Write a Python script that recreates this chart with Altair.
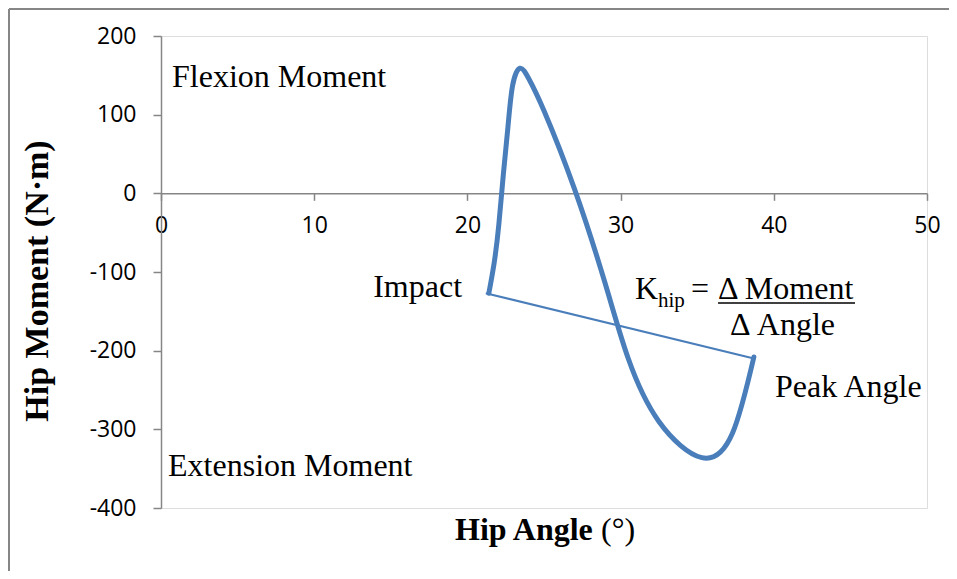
import altair as alt
import pandas as pd

# Hip moment-angle loop
curve_angle = [21.4, 21.75, 22.05, 22.35, 22.65, 22.95, 23.43, 24.0, 25.0, 27.0,
               29.0, 30.5, 32.5, 35.3, 37.3, 38.7]
curve_moment = [-127, -88, -40, 25, 85, 137, 159, 146, 105, 5,
                -115, -210, -290, -336, -305, -208]

chord_angle = [21.2, 38.7]
chord_moment = [-127, -210]

x_ticks = [0, 10, 20, 30, 40, 50]
y_ticks = [-400, -300, -200, -100, 0, 100, 200]

BLUE = "#4a7ebb"
GRAY = "#868686"
SERIF = "Liberation Serif"
SANS = "Open Sans"

curve = pd.DataFrame({"angle": curve_angle, "moment": curve_moment,
                      "order": list(range(len(curve_angle)))})
chord = pd.DataFrame({"angle": chord_angle, "moment": chord_moment})

xs = alt.Scale(domain=[0, 50], nice=False, zero=False)
ys = alt.Scale(domain=[-400, 200], nice=False, zero=False)

x_axis = alt.Axis(orient="bottom", offset=-314.67, values=x_ticks, tickSize=7,
                  labelPadding=14, labelFlush=False, labelOverlap=False,
                  domainColor=GRAY, tickColor=GRAY, domainWidth=1.5,
                  tickWidth=1.5, labelFont=SANS, labelFontSize=23, labelColor="#000000",
                  grid=False, title=None)
y_axis = alt.Axis(orient="left", values=y_ticks, tickSize=8, labelPadding=17,
                  labelExpr="'' + datum.value", labelOverlap=False,
                  domainColor=GRAY, tickColor=GRAY, domainWidth=1.5, tickWidth=1.5,
                  labelFont=SANS, labelFontSize=23, labelColor="#000000",
                  grid=False, title=None)

line = alt.Chart(curve).mark_line(color=BLUE, strokeWidth=5, strokeCap="round",
                                  strokeJoin="round", interpolate="natural").encode(
    x=alt.X("angle:Q", scale=xs, axis=x_axis),
    y=alt.Y("moment:Q", scale=ys, axis=y_axis),
    order="order:O",
)

chord_line = alt.Chart(chord).mark_line(color=BLUE, strokeWidth=2).encode(
    x=alt.X("angle:Q", scale=xs),
    y=alt.Y("moment:Q", scale=ys),
)

# annotations
ann_left = pd.DataFrame({
    "x": [0.72, 0.46, 40.08, 30.94, 34.6, 36.36, 37.14],
    "y": [135, -359, -259, -134.3, -134.3, -134.3, -180.1],
    "t": ["Flexion Moment", "Extension Moment", "Peak Angle", "K", "=", "Δ Moment", "Δ Angle"],
})
ann_right = pd.DataFrame({"x": [19.65], "y": [-132], "t": ["Impact"]})
ann_sub = pd.DataFrame({"x": [32.44], "y": [-144.5], "t": ["hip"]})
underline = pd.DataFrame({"x": [36.36], "x2": [45.3], "y": [-139.4]})

t_left = alt.Chart(ann_left).mark_text(font=SERIF, fontSize=32, align="left",
                                       baseline="alphabetic", color="#000000").encode(
    x=alt.X("x:Q", scale=xs), y=alt.Y("y:Q", scale=ys), text="t:N")
t_right = alt.Chart(ann_right).mark_text(font=SERIF, fontSize=32, align="right",
                                         baseline="alphabetic", color="#000000").encode(
    x=alt.X("x:Q", scale=xs), y=alt.Y("y:Q", scale=ys), text="t:N")
t_sub = alt.Chart(ann_sub).mark_text(font=SERIF, fontSize=21, align="left",
                                     baseline="alphabetic", color="#000000").encode(
    x=alt.X("x:Q", scale=xs), y=alt.Y("y:Q", scale=ys), text="t:N")
u_rule = alt.Chart(underline).mark_rule(color="#000000", strokeWidth=1.5).encode(
    x=alt.X("x:Q", scale=xs), x2="x2:Q", y=alt.Y("y:Q", scale=ys))

# axis titles
xt_bold = alt.Chart(pd.DataFrame({"t": ["Hip Angle"]})).mark_text(
    font=SERIF, fontSize=32, fontWeight="bold", align="left", baseline="alphabetic",
    color="#000000").encode(x=alt.value(294), y=alt.value(504), text="t:N")
xt_reg = alt.Chart(pd.DataFrame({"t": ["(°)"]})).mark_text(
    font=SERIF, fontSize=32, align="left", baseline="alphabetic",
    color="#000000").encode(x=alt.value(440), y=alt.value(504), text="t:N")
yt = alt.Chart(pd.DataFrame({"t": ["Hip Moment (N·m)"]})).mark_text(
    font=SERIF, fontSize=34, fontWeight="bold", align="center", baseline="middle",
    angle=270, color="#000000").encode(x=alt.value(-123), y=alt.value(245), text="t:N")

# chart-area border (left and top edges)
border_v = alt.Chart(pd.DataFrame({"a": [0]})).mark_rule(color=GRAY, strokeWidth=2).encode(
    x=alt.value(-152), y=alt.value(-27), y2=alt.value(540))
border_h = alt.Chart(pd.DataFrame({"a": [0]})).mark_rule(color=GRAY, strokeWidth=2).encode(
    x=alt.value(-152), x2=alt.value(790), y=alt.value(-27))

chart = alt.layer(border_v, border_h, chord_line, line, t_left, t_right, t_sub, u_rule,
                  xt_bold, xt_reg, yt).properties(
    width=766, height=472,
    autosize=alt.AutoSizeParams(type="none"),
    padding={"left": 153, "top": 28, "right": 22, "bottom": 63},
).configure_view(stroke=None).configure(background="#ffffff")

chart.save("out.html", embed_options={"renderer": "svg", "actions": False})
